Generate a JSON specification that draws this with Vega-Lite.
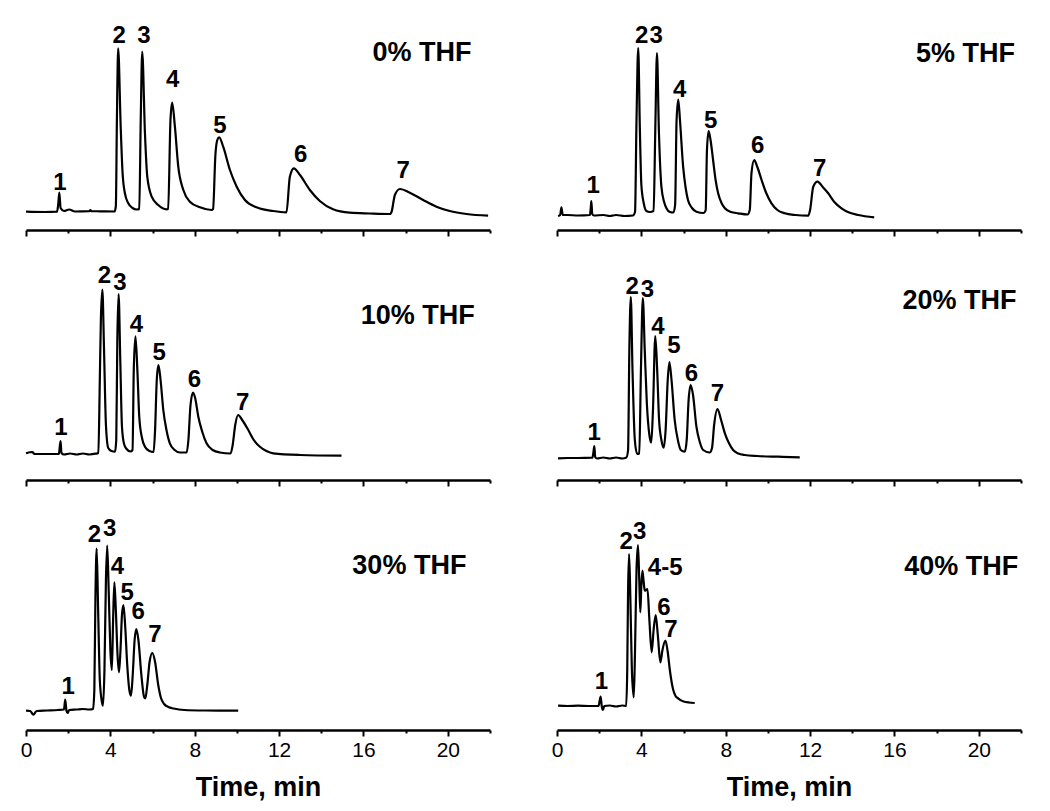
{
  "$schema": "https://vega.github.io/schema/vega-lite/v6.json",
  "background": "white",
  "padding": {"left": 20, "top": 5, "right": 5, "bottom": 5},
  "bounds": "flush",
  "config": {
    "view": {"stroke": null},
    "font": "Liberation Sans",
    "axis": {"grid": false}
  },
  "datasets": {
    "d0": [
      {"t":0,"s":18.3},{"t":0.9,"s":18},{"t":1.47,"s":18.3},{"t":1.53,"s":26},{"t":1.58,"s":37.3},{"t":1.64,"s":22},{"t":1.8,"s":19},{"t":2.05,"s":20.5},{"t":2.32,"s":18.5},{"t":3.0,"s":18.8},{"t":3.05,"s":20},{"t":3.1,"s":18.8},{"t":3.51,"s":18.7},{"t":4.2,"s":18.5},
      {"t":4.26,"s":24},{"t":4.31,"s":110},{"t":4.37,"s":181.7},{"t":4.49,"s":103},{"t":4.58,"s":56.7},{"t":4.69,"s":36.7},{"t":4.85,"s":26.7},{"t":5.05,"s":22},{"t":5.25,"s":20.5},
      {"t":5.37,"s":21},{"t":5.44,"s":110},{"t":5.51,"s":178.3},{"t":5.64,"s":96.7},{"t":5.75,"s":53.3},{"t":5.96,"s":33.3},{"t":6.27,"s":25},{"t":6.67,"s":20.7},
      {"t":6.74,"s":21},{"t":6.85,"s":110},{"t":6.93,"s":127.3},{"t":7.06,"s":103.3},{"t":7.22,"s":63.3},{"t":7.46,"s":40},{"t":7.77,"s":28.3},{"t":8.25,"s":22.7},{"t":8.8,"s":20},
      {"t":8.87,"s":21},{"t":8.98,"s":75},{"t":9.07,"s":90},{"t":9.16,"s":92.7},{"t":9.35,"s":83.3},{"t":9.67,"s":60},{"t":9.99,"s":43.3},{"t":10.38,"s":30},{"t":10.93,"s":22.7},{"t":11.72,"s":19},{"t":12.35,"s":17.7},
      {"t":12.51,"s":53.3},{"t":12.7,"s":61.7},{"t":12.99,"s":55},{"t":13.46,"s":40},{"t":13.93,"s":29},{"t":14.56,"s":20.7},{"t":15.35,"s":17.3},{"t":16.3,"s":16.5},{"t":17.25,"s":16},
      {"t":17.33,"s":18},{"t":17.49,"s":35},{"t":17.73,"s":41},{"t":18.2,"s":37.3},{"t":18.83,"s":30},{"t":19.46,"s":23.3},{"t":20.09,"s":19},{"t":20.89,"s":16},{"t":21.91,"s":14.3}
    ],
    "d5": [
      {"t":0.05,"s":14},{"t":0.15,"s":15},{"t":0.21,"s":22.7},{"t":0.27,"s":15},{"t":0.5,"s":15},{"t":1.0,"s":14.5},{"t":1.56,"s":15},{"t":1.6,"s":22},{"t":1.63,"s":29},{"t":1.67,"s":16},{"t":1.75,"s":14.5},{"t":2.2,"s":15},{"t":2.5,"s":14},{"t":2.8,"s":15},{"t":3.2,"s":14},{"t":3.6,"s":14.5},
      {"t":3.7,"s":18},{"t":3.77,"s":110},{"t":3.85,"s":182},{"t":3.93,"s":100},{"t":4.0,"s":45},{"t":4.12,"s":26},{"t":4.24,"s":19},{"t":4.4,"s":18},
      {"t":4.58,"s":19},{"t":4.66,"s":100},{"t":4.74,"s":177},{"t":4.83,"s":100},{"t":4.95,"s":43.3},{"t":5.08,"s":28},{"t":5.19,"s":21.7},{"t":5.35,"s":18},{"t":5.52,"s":17.5},
      {"t":5.6,"s":25},{"t":5.67,"s":110},{"t":5.75,"s":130.5},{"t":5.83,"s":110},{"t":5.98,"s":63.3},{"t":6.1,"s":42},{"t":6.21,"s":30},{"t":6.4,"s":22},{"t":6.61,"s":18.3},{"t":6.95,"s":17},
      {"t":7.05,"s":20},{"t":7.11,"s":80},{"t":7.19,"s":99},{"t":7.28,"s":90},{"t":7.4,"s":70},{"t":7.52,"s":50},{"t":7.64,"s":36.7},{"t":7.8,"s":27},{"t":7.96,"s":21.7},{"t":8.25,"s":18},{"t":8.59,"s":16.7},{"t":9.03,"s":15.5},
      {"t":9.14,"s":20},{"t":9.22,"s":56.7},{"t":9.35,"s":70},{"t":9.5,"s":63},{"t":9.7,"s":50},{"t":9.92,"s":37},{"t":10.17,"s":26.7},{"t":10.45,"s":20},{"t":10.8,"s":16.7},{"t":11.3,"s":15},{"t":11.91,"s":14.3},
      {"t":12.0,"s":20},{"t":12.15,"s":43.3},{"t":12.35,"s":48.3},{"t":12.6,"s":43},{"t":12.86,"s":36.7},{"t":13.15,"s":28},{"t":13.49,"s":21.7},{"t":13.85,"s":17.5},{"t":14.28,"s":15},{"t":15.04,"s":12.7}
    ],
    "d10": [
      {"t":0,"s":26.7},{"t":0.3,"s":28},{"t":0.4,"s":26},{"t":1.0,"s":26},{"t":1.56,"s":26},{"t":1.6,"s":33},{"t":1.64,"s":39},{"t":1.68,"s":27},{"t":1.8,"s":25.5},{"t":2.1,"s":26.5},{"t":2.4,"s":25.5},{"t":2.7,"s":26.5},{"t":3.0,"s":25.5},{"t":3.3,"s":26.3},
      {"t":3.43,"s":27},{"t":3.5,"s":100},{"t":3.55,"s":160},{"t":3.62,"s":190.5},{"t":3.7,"s":130},{"t":3.79,"s":55},{"t":3.9,"s":32},{"t":4.05,"s":29},{"t":4.22,"s":28.3},
      {"t":4.28,"s":40},{"t":4.33,"s":140},{"t":4.39,"s":186},{"t":4.47,"s":120},{"t":4.55,"s":53.3},{"t":4.65,"s":36},{"t":4.77,"s":31},{"t":4.95,"s":28.5},
      {"t":5.05,"s":30},{"t":5.11,"s":110},{"t":5.19,"s":143.7},{"t":5.28,"s":110},{"t":5.37,"s":63.3},{"t":5.5,"s":42},{"t":5.64,"s":33.3},{"t":5.85,"s":29},{"t":6.05,"s":28},
      {"t":6.12,"s":50},{"t":6.2,"s":100},{"t":6.28,"s":115},{"t":6.38,"s":100},{"t":6.51,"s":70},{"t":6.66,"s":50},{"t":6.82,"s":36.7},{"t":7.05,"s":30},{"t":7.3,"s":27.5},{"t":7.62,"s":27.5},
      {"t":7.7,"s":40},{"t":7.8,"s":75},{"t":7.92,"s":87.5},{"t":8.02,"s":82},{"t":8.17,"s":63.3},{"t":8.36,"s":48},{"t":8.56,"s":36.7},{"t":8.85,"s":30},{"t":9.19,"s":27.5},{"t":9.7,"s":26.5},
      {"t":9.8,"s":35},{"t":9.92,"s":55},{"t":10.06,"s":65},{"t":10.25,"s":60},{"t":10.54,"s":50},{"t":10.8,"s":40},{"t":11.09,"s":33.3},{"t":11.4,"s":29},{"t":11.72,"s":26.7},{"t":12.99,"s":25},{"t":14.96,"s":24.3}
    ],
    "d20": [
      {"t":0.05,"s":21.7},{"t":0.5,"s":22},{"t":1.0,"s":22},{"t":1.68,"s":22.3},{"t":1.73,"s":28},{"t":1.77,"s":34},{"t":1.81,"s":23},{"t":1.9,"s":21.5},{"t":2.2,"s":22.5},{"t":2.5,"s":21.5},{"t":2.8,"s":22.5},{"t":3.1,"s":21.5},{"t":3.29,"s":22.5},
      {"t":3.37,"s":30},{"t":3.43,"s":130},{"t":3.5,"s":182.8},{"t":3.58,"s":110},{"t":3.69,"s":40},{"t":3.8,"s":26},{"t":3.9,"s":26.5},
      {"t":3.98,"s":110},{"t":4.07,"s":182},{"t":4.16,"s":130},{"t":4.26,"s":76.7},{"t":4.38,"s":45},{"t":4.47,"s":37.5},
      {"t":4.55,"s":70},{"t":4.66,"s":144},{"t":4.75,"s":110},{"t":4.84,"s":60},{"t":4.95,"s":40},{"t":5.06,"s":32.3},
      {"t":5.15,"s":50},{"t":5.25,"s":100},{"t":5.33,"s":118},{"t":5.43,"s":100},{"t":5.58,"s":60},{"t":5.73,"s":40},{"t":5.87,"s":30},{"t":6.06,"s":28.3},
      {"t":6.15,"s":40},{"t":6.24,"s":80},{"t":6.34,"s":95},{"t":6.45,"s":85},{"t":6.61,"s":53.3},{"t":6.77,"s":38},{"t":6.93,"s":30},{"t":7.24,"s":27.5},
      {"t":7.35,"s":32},{"t":7.45,"s":55},{"t":7.61,"s":71},{"t":7.78,"s":60},{"t":7.96,"s":46.7},{"t":8.15,"s":37},{"t":8.35,"s":30},{"t":8.6,"s":26.5},{"t":8.9,"s":25},{"t":9.5,"s":24},{"t":10.5,"s":23.3},{"t":11.51,"s":22.7}
    ],
    "d30": [
      {"t":0,"s":19.3},{"t":0.2,"s":19},{"t":0.35,"s":15.3},{"t":0.5,"s":19},{"t":1.0,"s":19.5},{"t":1.5,"s":20},{"t":1.8,"s":20.5},{"t":1.86,"s":30.3},{"t":1.92,"s":19},{"t":1.97,"s":17},{"t":2.05,"s":20},{"t":2.4,"s":20.5},{"t":2.7,"s":21},{"t":3.0,"s":20.5},{"t":3.18,"s":21},
      {"t":3.24,"s":40},{"t":3.29,"s":130},{"t":3.35,"s":181.5},{"t":3.42,"s":120},{"t":3.5,"s":50},{"t":3.6,"s":28},{"t":3.65,"s":24.3},
      {"t":3.72,"s":60},{"t":3.79,"s":150},{"t":3.85,"s":184.3},{"t":3.92,"s":140},{"t":4.0,"s":80},{"t":4.07,"s":60},
      {"t":4.13,"s":110},{"t":4.19,"s":147.7},{"t":4.26,"s":120},{"t":4.34,"s":75},{"t":4.41,"s":57.7},
      {"t":4.48,"s":80},{"t":4.55,"s":115},{"t":4.62,"s":125},{"t":4.7,"s":105},{"t":4.8,"s":65},{"t":4.9,"s":40},{"t":4.98,"s":34.3},
      {"t":5.06,"s":55},{"t":5.15,"s":90},{"t":5.23,"s":101},{"t":5.33,"s":90},{"t":5.47,"s":55},{"t":5.6,"s":33},{"t":5.66,"s":31.7},
      {"t":5.75,"s":45},{"t":5.86,"s":68},{"t":5.99,"s":77},{"t":6.12,"s":68},{"t":6.27,"s":45},{"t":6.4,"s":32},{"t":6.55,"s":26},{"t":6.75,"s":23},{"t":7.0,"s":21.5},{"t":7.5,"s":20},{"t":8.5,"s":19.5},{"t":10.06,"s":19.3}
    ],
    "d40": [
      {"t":0.05,"s":24.3},{"t":0.5,"s":24},{"t":1.0,"s":24.3},{"t":1.5,"s":24},{"t":1.97,"s":24},{"t":2.02,"s":29},{"t":2.07,"s":33.3},{"t":2.12,"s":24},{"t":2.18,"s":20},{"t":2.24,"s":24},{"t":2.5,"s":24.5},{"t":2.8,"s":23.5},{"t":3.1,"s":24.5},{"t":3.28,"s":24},
      {"t":3.33,"s":60},{"t":3.37,"s":140},{"t":3.42,"s":176},{"t":3.48,"s":130},{"t":3.55,"s":60},{"t":3.64,"s":32.7},
      {"t":3.7,"s":80},{"t":3.77,"s":160},{"t":3.84,"s":185},{"t":3.9,"s":150},{"t":3.95,"s":117.7},{"t":4.0,"s":145},{"t":4.05,"s":159.3},{"t":4.11,"s":148},{"t":4.16,"s":139.3},{"t":4.22,"s":140},{"t":4.29,"s":141},{"t":4.38,"s":110},{"t":4.49,"s":77.7},
      {"t":4.58,"s":100},{"t":4.68,"s":115},{"t":4.78,"s":95},{"t":4.9,"s":67.7},{"t":5.0,"s":80},{"t":5.14,"s":89.3},{"t":5.25,"s":78},{"t":5.35,"s":60},{"t":5.5,"s":41},{"t":5.62,"s":34},{"t":5.74,"s":31.7},{"t":6.0,"s":28.5},{"t":6.53,"s":27}
    ],
    "notes": [
      {"panel":"0","kind":"peak","label":"1","t":1.61,"s":40},
      {"panel":"0","kind":"peak","label":"2","t":4.42,"s":187.3},
      {"panel":"0","kind":"peak","label":"3","t":5.59,"s":186.7},
      {"panel":"0","kind":"peak","label":"4","t":6.95,"s":142.7},
      {"panel":"0","kind":"peak","label":"5","t":9.19,"s":97.3},
      {"panel":"0","kind":"peak","label":"6","t":13.02,"s":68.3},
      {"panel":"0","kind":"peak","label":"7","t":17.88,"s":52.3},
      {"panel":"0","kind":"cond","label":"0% THF","t":21.12,"s":169.3},
      {"panel":"5","kind":"peak","label":"1","t":1.71,"s":36.7},
      {"panel":"5","kind":"peak","label":"2","t":4.02,"s":186.7},
      {"panel":"5","kind":"peak","label":"3","t":4.7,"s":186.7},
      {"panel":"5","kind":"peak","label":"4","t":5.82,"s":132.7},
      {"panel":"5","kind":"peak","label":"5","t":7.29,"s":101.7},
      {"panel":"5","kind":"peak","label":"6","t":9.51,"s":76.7},
      {"panel":"5","kind":"peak","label":"7","t":12.46,"s":54},
      {"panel":"5","kind":"cond","label":"5% THF","t":21.72,"s":168.3},
      {"panel":"10","kind":"peak","label":"1","t":1.66,"s":45},
      {"panel":"10","kind":"peak","label":"2","t":3.72,"s":196.7},
      {"panel":"10","kind":"peak","label":"3","t":4.45,"s":190},
      {"panel":"10","kind":"peak","label":"4","t":5.24,"s":148.3},
      {"panel":"10","kind":"peak","label":"5","t":6.32,"s":120},
      {"panel":"10","kind":"peak","label":"6","t":7.98,"s":92.7},
      {"panel":"10","kind":"peak","label":"7","t":10.27,"s":70},
      {"panel":"10","kind":"cond","label":"10% THF","t":21.28,"s":155.7},
      {"panel":"20","kind":"peak","label":"1","t":1.76,"s":40},
      {"panel":"20","kind":"peak","label":"2","t":3.56,"s":186},
      {"panel":"20","kind":"peak","label":"3","t":4.29,"s":183.3},
      {"panel":"20","kind":"peak","label":"4","t":4.79,"s":146},
      {"panel":"20","kind":"peak","label":"5","t":5.54,"s":126.7},
      {"panel":"20","kind":"peak","label":"6","t":6.37,"s":99},
      {"panel":"20","kind":"peak","label":"7","t":7.61,"s":79.3},
      {"panel":"20","kind":"cond","label":"20% THF","t":21.79,"s":170.7},
      {"panel":"30","kind":"peak","label":"1","t":2.0,"s":36},
      {"panel":"30","kind":"peak","label":"2","t":3.25,"s":188.5},
      {"panel":"30","kind":"peak","label":"3","t":3.97,"s":194.3},
      {"panel":"30","kind":"peak","label":"4","t":4.33,"s":156},
      {"panel":"30","kind":"peak","label":"5","t":4.8,"s":130},
      {"panel":"30","kind":"peak","label":"6","t":5.32,"s":111},
      {"panel":"30","kind":"peak","label":"7","t":6.11,"s":88.3},
      {"panel":"30","kind":"cond","label":"30% THF","t":20.88,"s":156},
      {"panel":"40","kind":"peak","label":"1","t":2.11,"s":41},
      {"panel":"40","kind":"peak","label":"2","t":3.28,"s":181},
      {"panel":"40","kind":"peak","label":"3","t":3.92,"s":191},
      {"panel":"40","kind":"peak","label":"4-5","t":5.13,"s":155},
      {"panel":"40","kind":"peak","label":"6","t":5.07,"s":114.8},
      {"panel":"40","kind":"peak","label":"7","t":5.4,"s":92.7},
      {"panel":"40","kind":"cond","label":"40% THF","t":21.87,"s":155}
    ]
  },
  "columns": 2,
  "spacing": {"row": 25, "column": 67},
  "concat": [
    {
      "width": 464, "height": 225,
      "encoding": {
        "x": {"field": "t", "type": "quantitative", "scale": {"domain": [0, 22], "nice": false},
          "axis": {"values": [0,2,4,6,8,10,12,14,16,18,20,22], "labels": false, "title": null, "domainColor": "black", "domainWidth": 2.5, "tickColor": "black", "tickWidth": 2, "tickSize": {"condition": {"test": "datum.value % 4 === 0", "value": 6}, "value": 3}}},
        "y": {"field": "s", "type": "quantitative", "scale": {"domain": [0, 225], "nice": false}, "axis": null}
      },
      "layer": [
        {"data": {"name": "d0"}, "mark": {"type": "line", "color": "black", "strokeWidth": 2.2, "interpolate": "monotone"}, "encoding": {}},
        {"data": {"name": "notes"}, "transform": [{"filter": "datum.panel === '0' && datum.kind === 'peak'"}], "mark": {"type": "text", "font": "Liberation Sans", "fontSize": 24, "fontWeight": "bold", "baseline": "alphabetic", "color": "black"}, "encoding": {"text": {"field": "label"}}},
        {"data": {"name": "notes"}, "transform": [{"filter": "datum.panel === '0' && datum.kind === 'cond'"}], "mark": {"type": "text", "font": "Liberation Sans", "fontSize": 27, "fontWeight": "bold", "baseline": "alphabetic", "align": "right", "color": "black"}, "encoding": {"text": {"field": "label"}}}
      ]
    },
    {
      "width": 464, "height": 225,
      "encoding": {
        "x": {"field": "t", "type": "quantitative", "scale": {"domain": [0, 22], "nice": false},
          "axis": {"values": [0,2,4,6,8,10,12,14,16,18,20,22], "labels": false, "title": null, "domainColor": "black", "domainWidth": 2.5, "tickColor": "black", "tickWidth": 2, "tickSize": {"condition": {"test": "datum.value % 4 === 0", "value": 6}, "value": 3}}},
        "y": {"field": "s", "type": "quantitative", "scale": {"domain": [0, 225], "nice": false}, "axis": null}
      },
      "layer": [
        {"data": {"name": "d5"}, "mark": {"type": "line", "color": "black", "strokeWidth": 2.2, "interpolate": "monotone"}, "encoding": {}},
        {"data": {"name": "notes"}, "transform": [{"filter": "datum.panel === '5' && datum.kind === 'peak'"}], "mark": {"type": "text", "font": "Liberation Sans", "fontSize": 24, "fontWeight": "bold", "baseline": "alphabetic", "color": "black"}, "encoding": {"text": {"field": "label"}}},
        {"data": {"name": "notes"}, "transform": [{"filter": "datum.panel === '5' && datum.kind === 'cond'"}], "mark": {"type": "text", "font": "Liberation Sans", "fontSize": 27, "fontWeight": "bold", "baseline": "alphabetic", "align": "right", "color": "black"}, "encoding": {"text": {"field": "label"}}}
      ]
    },
    {
      "width": 464, "height": 225,
      "encoding": {
        "x": {"field": "t", "type": "quantitative", "scale": {"domain": [0, 22], "nice": false},
          "axis": {"values": [0,2,4,6,8,10,12,14,16,18,20,22], "labels": false, "title": null, "domainColor": "black", "domainWidth": 2.5, "tickColor": "black", "tickWidth": 2, "tickSize": {"condition": {"test": "datum.value % 4 === 0", "value": 6}, "value": 3}}},
        "y": {"field": "s", "type": "quantitative", "scale": {"domain": [0, 225], "nice": false}, "axis": null}
      },
      "layer": [
        {"data": {"name": "d10"}, "mark": {"type": "line", "color": "black", "strokeWidth": 2.2, "interpolate": "monotone"}, "encoding": {}},
        {"data": {"name": "notes"}, "transform": [{"filter": "datum.panel === '10' && datum.kind === 'peak'"}], "mark": {"type": "text", "font": "Liberation Sans", "fontSize": 24, "fontWeight": "bold", "baseline": "alphabetic", "color": "black"}, "encoding": {"text": {"field": "label"}}},
        {"data": {"name": "notes"}, "transform": [{"filter": "datum.panel === '10' && datum.kind === 'cond'"}], "mark": {"type": "text", "font": "Liberation Sans", "fontSize": 27, "fontWeight": "bold", "baseline": "alphabetic", "align": "right", "color": "black"}, "encoding": {"text": {"field": "label"}}}
      ]
    },
    {
      "width": 464, "height": 225,
      "encoding": {
        "x": {"field": "t", "type": "quantitative", "scale": {"domain": [0, 22], "nice": false},
          "axis": {"values": [0,2,4,6,8,10,12,14,16,18,20,22], "labels": false, "title": null, "domainColor": "black", "domainWidth": 2.5, "tickColor": "black", "tickWidth": 2, "tickSize": {"condition": {"test": "datum.value % 4 === 0", "value": 6}, "value": 3}}},
        "y": {"field": "s", "type": "quantitative", "scale": {"domain": [0, 225], "nice": false}, "axis": null}
      },
      "layer": [
        {"data": {"name": "d20"}, "mark": {"type": "line", "color": "black", "strokeWidth": 2.2, "interpolate": "monotone"}, "encoding": {}},
        {"data": {"name": "notes"}, "transform": [{"filter": "datum.panel === '20' && datum.kind === 'peak'"}], "mark": {"type": "text", "font": "Liberation Sans", "fontSize": 24, "fontWeight": "bold", "baseline": "alphabetic", "color": "black"}, "encoding": {"text": {"field": "label"}}},
        {"data": {"name": "notes"}, "transform": [{"filter": "datum.panel === '20' && datum.kind === 'cond'"}], "mark": {"type": "text", "font": "Liberation Sans", "fontSize": 27, "fontWeight": "bold", "baseline": "alphabetic", "align": "right", "color": "black"}, "encoding": {"text": {"field": "label"}}}
      ]
    },
    {
      "width": 464, "height": 225,
      "encoding": {
        "x": {"field": "t", "type": "quantitative", "scale": {"domain": [0, 22], "nice": false},
          "axis": {"values": [0,2,4,6,8,10,12,14,16,18,20,22], "labelExpr": "datum.value % 4 === 0 ? datum.label : ''", "labelFlush": false, "labelOverlap": false, "labelFont": "Liberation Sans", "labelFontSize": 21, "labelColor": "black", "labelPadding": 3, "title": "Time, min", "titleFont": "Liberation Sans", "titleFontSize": 27, "titleFontWeight": "bold", "titleColor": "black", "titlePadding": 14, "domainColor": "black", "domainWidth": 2.5, "tickColor": "black", "tickWidth": 2, "tickSize": {"condition": {"test": "datum.value % 4 === 0", "value": 6}, "value": 3}}},
        "y": {"field": "s", "type": "quantitative", "scale": {"domain": [0, 225], "nice": false}, "axis": null}
      },
      "layer": [
        {"data": {"name": "d30"}, "mark": {"type": "line", "color": "black", "strokeWidth": 2.2, "interpolate": "monotone"}, "encoding": {}},
        {"data": {"name": "notes"}, "transform": [{"filter": "datum.panel === '30' && datum.kind === 'peak'"}], "mark": {"type": "text", "font": "Liberation Sans", "fontSize": 24, "fontWeight": "bold", "baseline": "alphabetic", "color": "black"}, "encoding": {"text": {"field": "label"}}},
        {"data": {"name": "notes"}, "transform": [{"filter": "datum.panel === '30' && datum.kind === 'cond'"}], "mark": {"type": "text", "font": "Liberation Sans", "fontSize": 27, "fontWeight": "bold", "baseline": "alphabetic", "align": "right", "color": "black"}, "encoding": {"text": {"field": "label"}}}
      ]
    },
    {
      "width": 464, "height": 225,
      "encoding": {
        "x": {"field": "t", "type": "quantitative", "scale": {"domain": [0, 22], "nice": false},
          "axis": {"values": [0,2,4,6,8,10,12,14,16,18,20,22], "labelExpr": "datum.value % 4 === 0 ? datum.label : ''", "labelFlush": false, "labelOverlap": false, "labelFont": "Liberation Sans", "labelFontSize": 21, "labelColor": "black", "labelPadding": 3, "title": "Time, min", "titleFont": "Liberation Sans", "titleFontSize": 27, "titleFontWeight": "bold", "titleColor": "black", "titlePadding": 14, "domainColor": "black", "domainWidth": 2.5, "tickColor": "black", "tickWidth": 2, "tickSize": {"condition": {"test": "datum.value % 4 === 0", "value": 6}, "value": 3}}},
        "y": {"field": "s", "type": "quantitative", "scale": {"domain": [0, 225], "nice": false}, "axis": null}
      },
      "layer": [
        {"data": {"name": "d40"}, "mark": {"type": "line", "color": "black", "strokeWidth": 2.2, "interpolate": "monotone"}, "encoding": {}},
        {"data": {"name": "notes"}, "transform": [{"filter": "datum.panel === '40' && datum.kind === 'peak'"}], "mark": {"type": "text", "font": "Liberation Sans", "fontSize": 24, "fontWeight": "bold", "baseline": "alphabetic", "color": "black"}, "encoding": {"text": {"field": "label"}}},
        {"data": {"name": "notes"}, "transform": [{"filter": "datum.panel === '40' && datum.kind === 'cond'"}], "mark": {"type": "text", "font": "Liberation Sans", "fontSize": 27, "fontWeight": "bold", "baseline": "alphabetic", "align": "right", "color": "black"}, "encoding": {"text": {"field": "label"}}}
      ]
    }
  ]
}
